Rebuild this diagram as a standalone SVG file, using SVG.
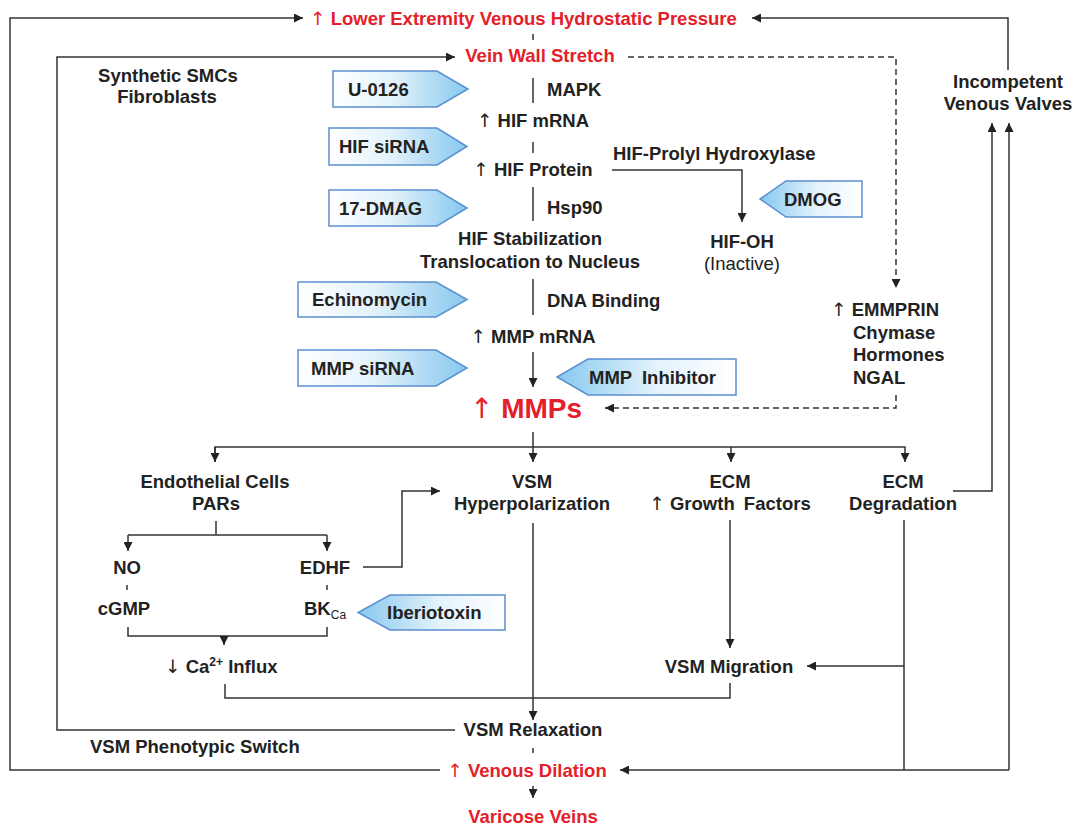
<svg xmlns="http://www.w3.org/2000/svg" width="1075" height="828" viewBox="0 0 1075 828">
<defs>
<style>
text{font-family:"Liberation Sans",Arial,sans-serif;font-weight:bold;font-size:18.5px;fill:#222}
.red{fill:#e4202a}
.mid{text-anchor:middle}
.ar{font-family:"DejaVu Sans",sans-serif;font-weight:normal}
.ln{fill:none;stroke:#333;stroke-width:1.5}
.da{fill:none;stroke:#333;stroke-width:1.5;stroke-dasharray:6,4}
.bxr{fill:url(#gr);stroke:#5b8fd0;stroke-width:1.5}
.bxl{fill:url(#gl);stroke:#5b8fd0;stroke-width:1.5}
</style>
<linearGradient id="gr" x1="0" y1="0" x2="1" y2="0">
<stop offset="0" stop-color="#ffffff"/><stop offset="0.45" stop-color="#e3f2fb"/><stop offset="1" stop-color="#86c8ee"/>
</linearGradient>
<linearGradient id="gl" x1="1" y1="0" x2="0" y2="0">
<stop offset="0" stop-color="#ffffff"/><stop offset="0.45" stop-color="#e3f2fb"/><stop offset="1" stop-color="#86c8ee"/>
</linearGradient>
<marker id="ah" viewBox="0 0 10 10" refX="10" refY="5" markerWidth="9" markerHeight="9" markerUnits="userSpaceOnUse" orient="auto">
<path d="M0,0 L10,5 L0,10 z" fill="#222"/>
</marker>
</defs>

<g id="connectors">
<path class="ln" d="M440,770 H10 V18 H303" marker-end="url(#ah)"/>
<path class="ln" d="M455,730 H57 V57 H455" marker-end="url(#ah)"/>
<path class="ln" d="M1008,70 V18 H752" marker-end="url(#ah)"/>
<path class="ln" d="M533,34 V40"/>
<path class="da" d="M628,57 H896 V288" marker-end="url(#ah)"/>
<path class="da" d="M896,395 V408 H605" marker-end="url(#ah)"/>
<path class="ln" d="M533,78 V103"/>
<path class="ln" d="M533,142 V153"/>
<path class="ln" d="M533,187 V221"/>
<path class="ln" d="M533,279 V315"/>
<path class="ln" d="M533,352 V387" marker-end="url(#ah)"/>
<path class="ln" d="M612,170 H742 V222" marker-end="url(#ah)"/>
<path class="ln" d="M533,432 V462" marker-end="url(#ah)"/>
<path class="ln" d="M215,462 V447 H905 V462" marker-end="url(#ah)"/>
<path class="ln" d="M215,447 V462" marker-end="url(#ah)"/>
<path class="ln" d="M731,447 V462" marker-end="url(#ah)"/>
<path class="ln" d="M216,521 V535"/>
<path class="ln" d="M128,535 H327"/>
<path class="ln" d="M128,535 V551" marker-end="url(#ah)"/>
<path class="ln" d="M327,535 V551" marker-end="url(#ah)"/>
<path class="ln" d="M127,585 V590"/>
<path class="ln" d="M327,585 V590"/>
<path class="ln" d="M128,627 V636 H327 V627"/>
<path class="ln" d="M224,636 V645" marker-end="url(#ah)"/>
<path class="ln" d="M363,567 H402 V491 H440" marker-end="url(#ah)"/>
<path class="ln" d="M533,523 V720" marker-end="url(#ah)"/>
<path class="ln" d="M730,520 V648" marker-end="url(#ah)"/>
<path class="ln" d="M225,684 V698 H730 V683"/>
<path class="ln" d="M904,520 V770"/>
<path class="ln" d="M904,666 H807" marker-end="url(#ah)"/>
<path class="ln" d="M953,491 H992 V123" marker-end="url(#ah)"/>
<path class="ln" d="M1009,770 V123" marker-end="url(#ah)"/>
<path class="ln" d="M1009,770 H620" marker-end="url(#ah)"/>
<path class="ln" d="M533,748 V753"/>
<path class="ln" d="M533,786 V798" marker-end="url(#ah)"/>
</g>

<g id="n-pressure"><text x="310" y="24.5" class="red"><tspan class="ar">↑</tspan> Lower Extremity Venous Hydrostatic Pressure</text></g>
<g id="n-stretch"><text x="540" y="62" class="red mid">Vein Wall Stretch</text></g>
<g id="n-synthetic"><text x="168" y="82" class="mid">Synthetic SMCs</text><text x="167" y="103" class="mid">Fibroblasts</text></g>
<g id="n-valves"><text x="1008" y="88" class="mid">Incompetent</text><text x="1008" y="110" class="mid">Venous Valves</text></g>

<g id="b-u0126"><path class="bxr" d="M333,71 H437 L468,89 L437,107 H333 Z"/><text x="348" y="96">U-0126</text></g>
<g id="n-mapk"><text x="547" y="96">MAPK</text></g>
<g id="n-hifmrna"><text x="533" y="127" class="mid"><tspan class="ar">↑</tspan> HIF mRNA</text></g>
<g id="b-hifsirna"><path class="bxr" d="M329,128 H437 L467,146.5 L437,165 H329 Z"/><text x="339" y="153">HIF siRNA</text></g>
<g id="n-hifprotein"><text x="533" y="176" class="mid"><tspan class="ar">↑</tspan> HIF Protein</text></g>
<g id="n-prolyl"><text x="613" y="160">HIF-Prolyl Hydroxylase</text></g>
<g id="b-dmog"><path class="bxl" d="M862,181 H786 L760,199 L786,217 H862 Z"/><text x="784" y="206">DMOG</text></g>
<g id="b-17dmag"><path class="bxr" d="M329,190 H437 L467,208 L437,226 H329 Z"/><text x="339" y="215">17-DMAG</text></g>
<g id="n-hsp90"><text x="547" y="214">Hsp90</text></g>
<g id="n-hifoh"><text x="742" y="248" class="mid">HIF-OH</text><text x="742" y="270" class="mid" style="font-weight:normal">(Inactive)</text></g>
<g id="n-stab"><text x="530" y="245" class="mid">HIF Stabilization</text><text x="530" y="268" class="mid">Translocation to Nucleus</text></g>
<g id="b-echino"><path class="bxr" d="M298,282 H436 L467,299.5 L436,317 H298 Z"/><text x="312" y="306">Echinomycin</text></g>
<g id="n-dna"><text x="547" y="307">DNA Binding</text></g>
<g id="n-emmprin"><text x="831" y="316"><tspan class="ar">↑</tspan> EMMPRIN</text><text x="853" y="339">Chymase</text><text x="853" y="361">Hormones</text><text x="853" y="384">NGAL</text></g>
<g id="n-mmpmrna"><text x="533" y="343" class="mid"><tspan class="ar">↑</tspan> MMP mRNA</text></g>
<g id="b-mmpsirna"><path class="bxr" d="M298,350 H436 L467,368 L436,386 H298 Z"/><text x="311" y="375">MMP siRNA</text></g>
<g id="b-mmpinh"><path class="bxl" d="M736,359 H588 L557,377 L588,395 H736 Z"/><text x="589" y="384">MMP <tspan dx="5">Inhibitor</tspan></text></g>
<g id="n-mmps"><text x="526" y="418" class="red mid" style="font-size:28px"><tspan class="ar">↑</tspan> MMPs</text></g>

<g id="n-endo"><text x="215" y="488" class="mid">Endothelial Cells</text><text x="216" y="510" class="mid">PARs</text></g>
<g id="n-hyper"><text x="532" y="488" class="mid">VSM</text><text x="532" y="510" class="mid">Hyperpolarization</text></g>
<g id="n-gf"><text x="730" y="488" class="mid">ECM</text><text x="730" y="510" class="mid"><tspan class="ar">↑</tspan> Growth <tspan dx="4">Factors</tspan></text></g>
<g id="n-deg"><text x="903" y="488" class="mid">ECM</text><text x="903" y="510" class="mid">Degradation</text></g>
<g id="n-no"><text x="127" y="574" class="mid">NO</text></g>
<g id="n-edhf"><text x="325" y="574" class="mid">EDHF</text></g>
<g id="n-cgmp"><text x="124" y="615" class="mid">cGMP</text></g>
<g id="n-bkca"><text x="304" y="615">BK<tspan style="font-size:12px;font-weight:normal" dy="4">Ca</tspan></text></g>
<g id="b-iberio"><path class="bxl" d="M505,595 H390 L358,612.5 L390,630 H505 Z"/><text x="387" y="619">Iberiotoxin</text></g>
<g id="n-ca"><text x="165" y="673"><tspan class="ar">↓</tspan> Ca<tspan style="font-size:12px" dy="-7">2+</tspan><tspan dy="7"> Influx</tspan></text></g>
<g id="n-migration"><text x="729" y="673" class="mid">VSM Migration</text></g>
<g id="n-relax"><text x="533" y="736" class="mid">VSM Relaxation</text></g>
<g id="n-switch"><text x="90" y="753">VSM Phenotypic Switch</text></g>
<g id="n-dilation"><text x="527" y="777" class="red mid"><tspan class="ar">↑</tspan> Venous Dilation</text></g>
<g id="n-varicose"><text x="533" y="823" class="red mid">Varicose Veins</text></g>
</svg>
